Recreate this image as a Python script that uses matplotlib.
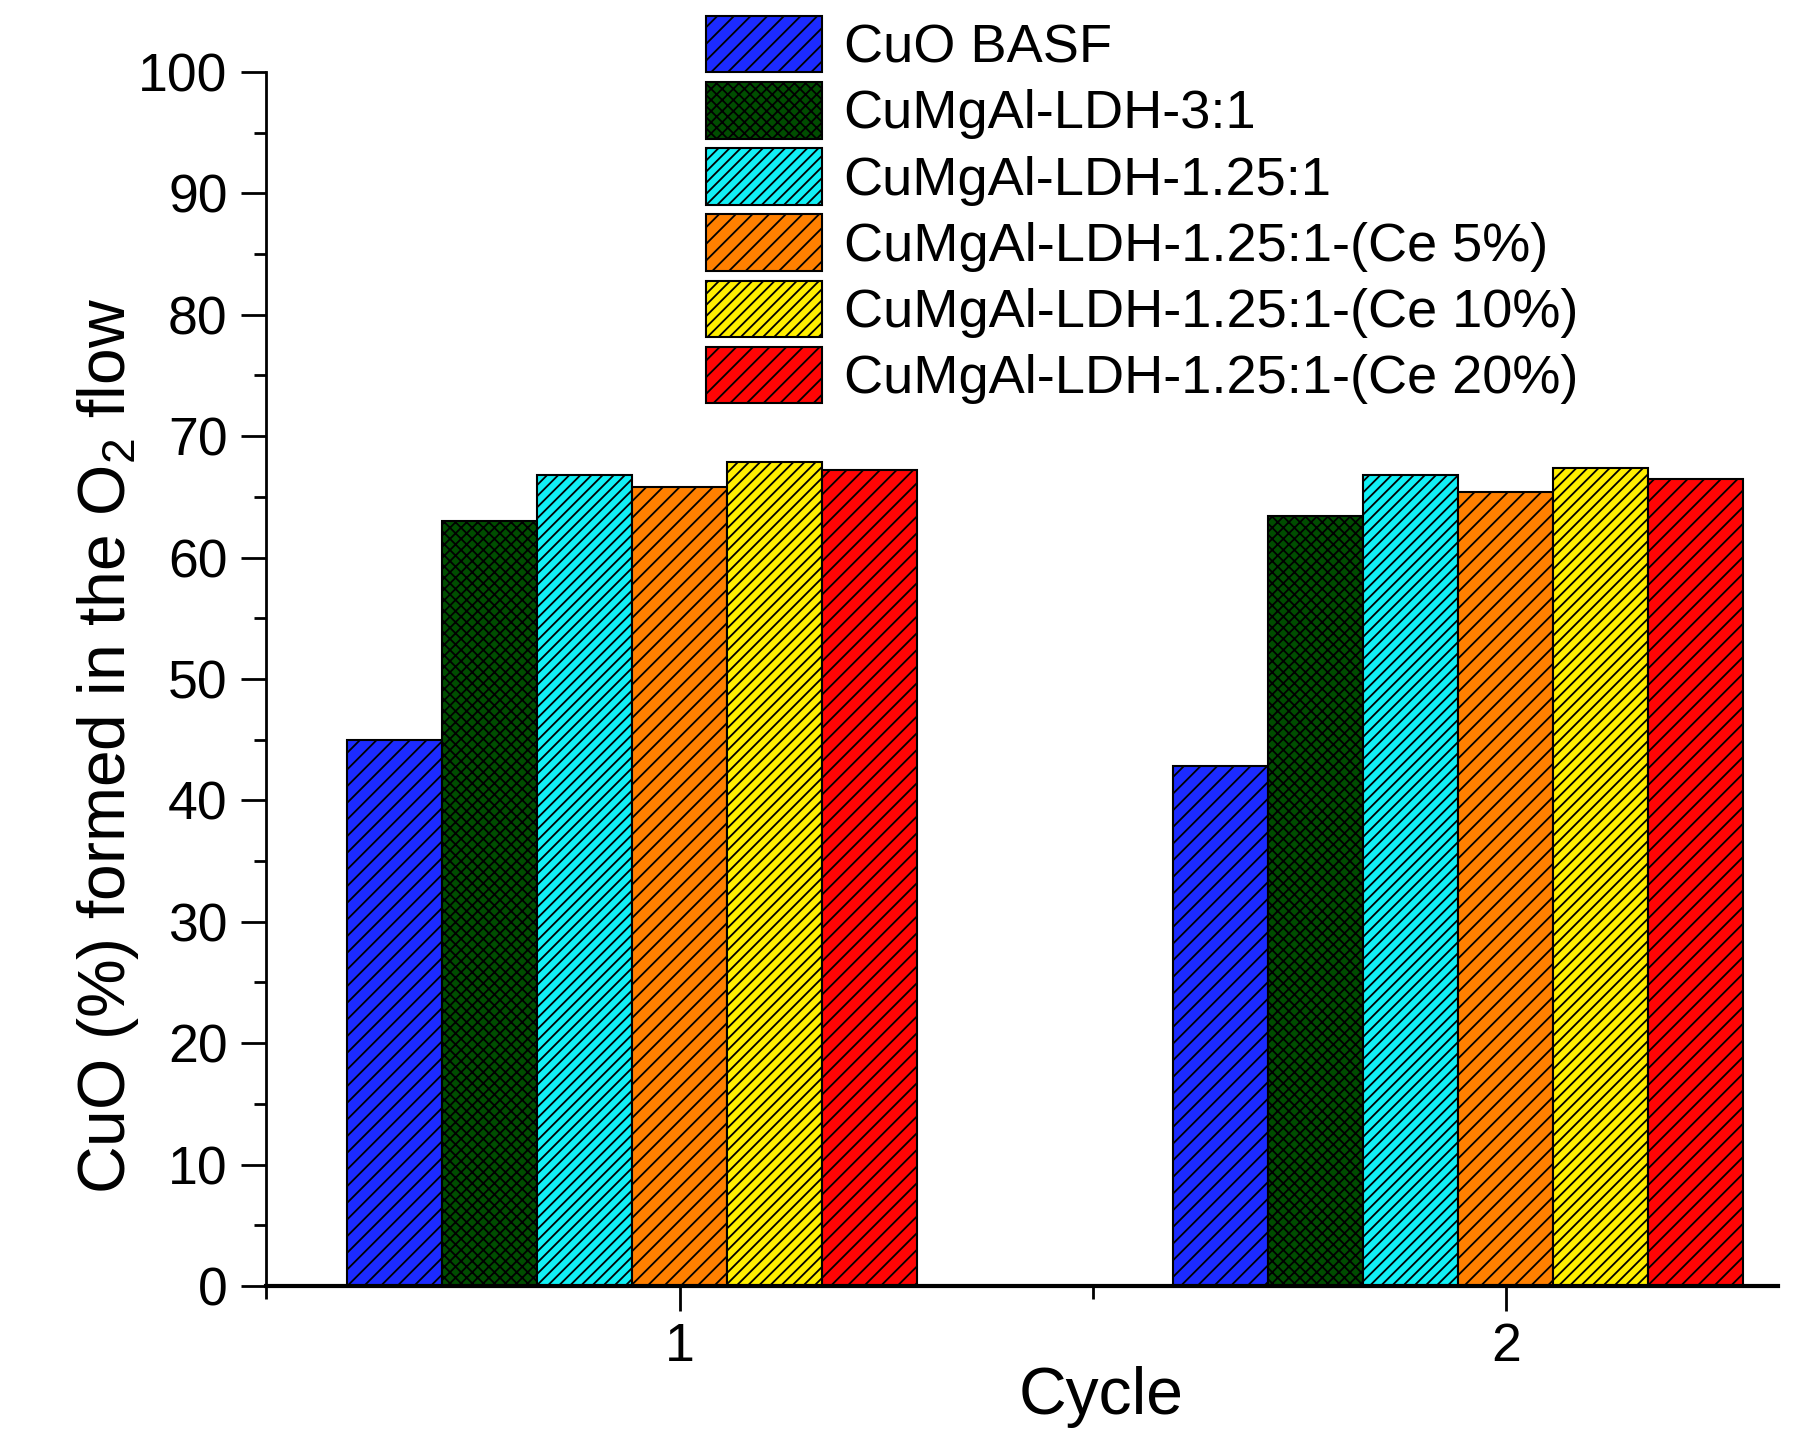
import numpy as np
import matplotlib.pyplot as plt
from matplotlib.ticker import MultipleLocator

plt.rcParams['font.family'] = ['Liberation Sans', 'DejaVu Sans']
plt.rcParams['mathtext.fontset'] = 'custom'
plt.rcParams['mathtext.rm'] = 'Liberation Sans'
plt.rcParams['hatch.linewidth'] = 1.3

# data
cycles = [1, 2]
samples = ['CuO BASF', 'CuMgAl-LDH-3:1', 'CuMgAl-LDH-1.25:1',
           'CuMgAl-LDH-1.25:1-(Ce 5%)', 'CuMgAl-LDH-1.25:1-(Ce 10%)',
           'CuMgAl-LDH-1.25:1-(Ce 20%)']
cuo_basf = [45.0, 42.8]
ldh_3 = [63.0, 63.4]
ldh_125 = [66.8, 66.8]
ce_5 = [65.8, 65.4]
ce_10 = [67.9, 67.4]
ce_20 = [67.2, 66.5]

colors = ['#1c2bff', '#004d00', '#11f0f5', '#ff8000', '#ffee00', '#ff0505']
hatches = ['//', 'xxx', '///', '//', '///', '//']

series = [cuo_basf, ldh_3, ldh_125, ce_5, ce_10, ce_20]

fig = plt.figure(figsize=(18, 14.3), dpi=100)
ax = fig.add_axes([0.148, 0.1007, 0.840, 0.849])

w = 0.115
x = np.array(cycles)
for i, vals in enumerate(series):
    ax.bar(x + (i - 3) * w, vals, w, color=colors[i], hatch=hatches[i],
           edgecolor='black', linewidth=1.5, label=samples[i])

ax.set_xlim(0.5, 2.33)
ax.set_ylim(0, 100)
ax.set_xticks(cycles)
ax.xaxis.set_minor_locator(MultipleLocator(0.5))
ax.yaxis.set_major_locator(MultipleLocator(10))
ax.yaxis.set_minor_locator(MultipleLocator(5))

for s in ['top', 'right']:
    ax.spines[s].set_visible(False)
ax.spines['left'].set_linewidth(2)
ax.spines['bottom'].set_linewidth(3)

ax.tick_params(axis='both', which='major', length=18, width=2, labelsize=38.5, direction='out')
ax.tick_params(axis='both', which='minor', length=9, width=2, direction='out')
ax.tick_params(axis='x', which='major', pad=8)
ax.tick_params(axis='y', which='major', pad=10)

ax.set_xlabel('Cycle', fontsize=47.5)
ax.xaxis.set_label_coords(0.552, -0.066)
ax.set_ylabel(r'CuO (%) formed in the O$_\mathrm{2}$ flow', fontsize=47.5)
ax.yaxis.set_label_coords(-0.083, 0.445)

fig.legend(loc='upper left', bbox_to_anchor=(0.392, 0.989), frameon=False,
           fontsize=39, handlelength=2.15, handleheight=1.23, labelspacing=0.16,
           handletextpad=0.4, borderaxespad=0, borderpad=0)

plt.savefig('out.png', dpi=100)
